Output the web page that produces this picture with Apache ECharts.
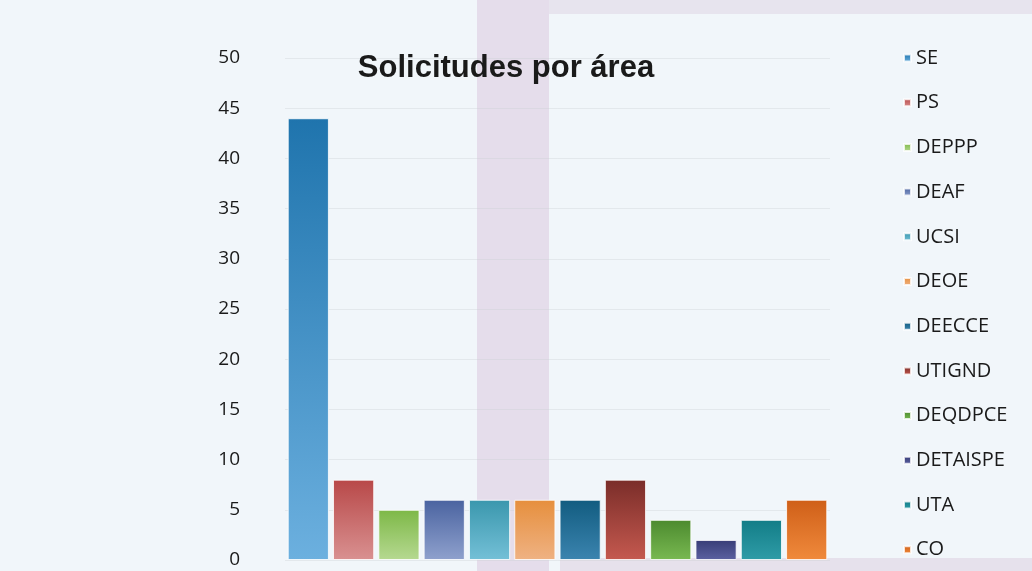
<!DOCTYPE html>
<html>
<head>
<meta charset="utf-8">
<script src="https://cdn.jsdelivr.net/npm/echarts@6/dist/echarts.min.js"></script>
<style>html,body{margin:0;padding:0;background:#f1f6fa;}#c{width:1032px;height:571px;}</style>
</head>
<body>
<div id="c"></div>
<script>
const titleText = 'Solicitudes por área';
const seriesNames = ['SE','PS','DEPPP','DEAF','UCSI','DEOE','DEECCE','UTIGND','DEQDPCE','DETAISPE','UTA','CO'];
const seriesValues = [44, 8, 5, 6, 6, 6, 6, 8, 4, 2, 4, 6];
const topColors = ['#1f74ad','#b84848','#7db847','#4a63a0','#3a97ad','#e68f3d','#125c80','#7a2d29','#4c8a2f','#383d77','#127d87','#cf5f18'];
const bottomColors = ['#6cb0df','#d99191','#b6d991','#8fa1cd','#74c0d7','#efb283','#3b84af','#c5594f','#79b951','#5b61a1','#2f9ca7','#f08a3c'];
const yTicks = [0, 50, 5];

const chart = echarts.init(document.getElementById('c'), null, {renderer: 'canvas'});
const series = seriesNames.map((n, i) => ({
  name: n,
  type: 'bar',
  data: [seriesValues[i]],
  barGap: '10%',
  barCategoryGap: '1%',
  itemStyle: {
    borderColor: 'rgba(255,255,255,0.8)',
    borderWidth: 1,
    color: new echarts.graphic.LinearGradient(0, 0, 0, 1, [
      {offset: 0, color: topColors[i]},
      {offset: 1, color: bottomColors[i]}
    ])
  }
}));

chart.setOption({
  backgroundColor: '#f1f6fa',
  animation: false,
  graphic: [
    {type: 'rect', silent: true, z: -10, shape: {x: 477, y: 0, width: 72, height: 571}, style: {fill: 'rgba(205,175,205,0.35)'}},
    {type: 'rect', silent: true, z: -10, shape: {x: 549, y: 0, width: 483, height: 14}, style: {fill: 'rgba(205,175,205,0.25)'}},
    {type: 'rect', silent: true, z: -10, shape: {x: 560, y: 558, width: 472, height: 13}, style: {fill: 'rgba(205,175,205,0.3)'}}
  ],
  title: {
    text: titleText,
    left: 506,
    top: 53,
    textAlign: 'center',
    padding: 0,
    textStyle: {fontFamily: 'Liberation Sans', fontWeight: 'bold', fontSize: 31, color: '#1a1a1a'}
  },
  legend: {
    orient: 'vertical',
    left: 903,
    top: 48,
    bottom: -60,
    padding: 0,
    itemWidth: 7,
    itemHeight: 7,
    itemGap: 24.7,
    icon: 'rect',
    textStyle: {fontFamily: 'Open Sans', fontSize: 20, color: '#1a1a1a', lineHeight: 20},
    data: seriesNames
  },
  grid: {left: 285, right: 202, top: 58, bottom: 11, containLabel: false},
  xAxis: {
    type: 'category',
    data: [''],
    axisLine: {show: false},
    axisTick: {show: false},
    axisLabel: {show: false}
  },
  yAxis: {
    type: 'value',
    min: yTicks[0],
    max: yTicks[1],
    interval: yTicks[2],
    axisLine: {show: false},
    axisTick: {show: false},
    axisLabel: {fontFamily: 'Open Sans', fontSize: 19, color: '#1a1a1a', margin: 45, align: 'right'},
    splitLine: {lineStyle: {color: 'rgba(200,205,210,0.35)'}}
  },
  series: series
});
</script>
</body>
</html>
